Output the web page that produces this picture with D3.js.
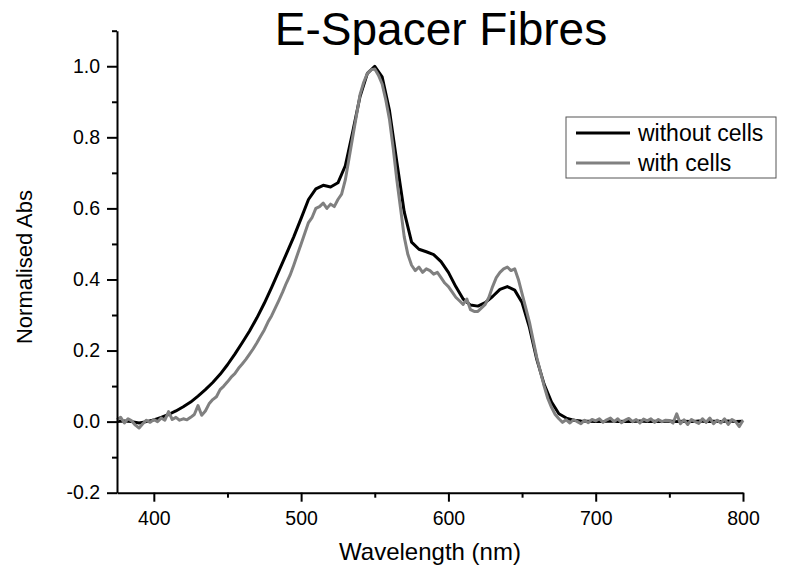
<!DOCTYPE html>
<html>
<head>
<meta charset="utf-8">
<script src="https://cdn.jsdelivr.net/npm/d3@7"></script>
<style>
  body { margin: 0; background: #fff; }
  svg { font-family: "Liberation Sans", Arial, sans-serif; }
</style>
</head>
<body>
<div id="chart"></div>
<script>
// absorbance spectra
var seriesNames = ["without cells", "with cells"];

// without cells, every 5 nm from 375 to 800
var withoutStep = 5;
var withoutCells = [
  0.0, 0.002, 0.0, -0.004, 0.0, 0.005, 0.012, 0.02, 0.03, 0.042,
  0.055, 0.072, 0.09, 0.11, 0.133, 0.16, 0.19, 0.222, 0.255, 0.292,
  0.333, 0.378, 0.425, 0.472, 0.52, 0.572, 0.625, 0.655, 0.665, 0.66,
  0.672, 0.72, 0.815, 0.915, 0.98, 1.0, 0.97, 0.875, 0.73, 0.59,
  0.505, 0.485, 0.478, 0.47, 0.45, 0.42, 0.38, 0.345, 0.328, 0.325,
  0.335, 0.352, 0.372, 0.38, 0.37, 0.335, 0.265, 0.175, 0.105, 0.055,
  0.022, 0.01, 0.004, 0.002, 0.001, 0.0, 0.0, 0.002, 0.0, 0.001,
  0.0, 0.002, 0.0, 0.001, 0.0, 0.002, 0.0, 0.001, 0.0, 0.002,
  0.0, 0.001, 0.0, 0.002, 0.0, 0.001
];

// with cells, every 2.5 nm from 375 to 800 (noisier trace)
var withStep = 2.5;
var withCells = [
  0.005, 0.012, -0.004, 0.008, 0.002, -0.01, -0.018, -0.006, 0.004, -0.002,
  0.006, 0.0, 0.01, 0.004, 0.028, 0.006, 0.012, 0.004, 0.008, 0.005,
  0.012, 0.02, 0.045, 0.018, 0.03, 0.05, 0.062, 0.07, 0.09, 0.1,
  0.112, 0.125, 0.135, 0.15, 0.162, 0.175, 0.19, 0.205, 0.222, 0.24,
  0.258, 0.28, 0.298, 0.32, 0.342, 0.365, 0.39, 0.412, 0.44, 0.47,
  0.5, 0.53, 0.56, 0.575, 0.6, 0.605, 0.615, 0.6, 0.612, 0.605,
  0.625, 0.64, 0.68, 0.74, 0.8, 0.86, 0.92, 0.955, 0.98, 0.99,
  0.992, 0.975, 0.95, 0.905, 0.85, 0.77, 0.68, 0.6, 0.52, 0.47,
  0.44, 0.425, 0.435, 0.42, 0.43, 0.425, 0.415, 0.42, 0.405, 0.39,
  0.38, 0.365, 0.35, 0.34, 0.33, 0.345, 0.315, 0.31, 0.31, 0.32,
  0.33, 0.35, 0.38, 0.405, 0.42, 0.43, 0.435, 0.425, 0.43, 0.4,
  0.36, 0.32, 0.28, 0.23, 0.18, 0.14, 0.1, 0.065, 0.04, 0.02,
  0.008, -0.002, 0.005, -0.004, 0.006, 0.0, -0.006, 0.004, -0.003, 0.006,
  0.002, 0.008, -0.002, 0.005, 0.01, 0.0, 0.008, -0.003, 0.004, 0.009,
  0.0, 0.006, -0.004, 0.007, 0.002, 0.008, -0.002, 0.006, 0.0, 0.004,
  0.003, -0.004, 0.022, -0.006, 0.005, -0.008, 0.006, 0.0, -0.005, 0.008,
  -0.002, 0.01, -0.006, 0.004, -0.004, 0.008, -0.008, 0.006, 0.0, -0.014,
  0.004
];

var xTicks = [400, 500, 600, 700, 800];
var xMinor = [450, 550, 650, 750];
var yTicks = [-0.2, 0.0, 0.2, 0.4, 0.6, 0.8, 1.0];
var yMinor = [-0.1, 0.1, 0.3, 0.5, 0.7, 0.9, 1.1];

var width = 809, height = 576;
var plotLeft = 117, plotRight = 743, plotTop = 30.7, plotBottom = 492.7;

var x = d3.scaleLinear().domain([375, 800]).range([plotLeft, plotRight]);
var y = d3.scaleLinear().domain([-0.2, 1.1]).range([plotBottom, plotTop]);

var svg = d3.select("#chart").append("svg")
    .attr("width", width)
    .attr("height", height);

function toPoints(vals, step) {
    return vals.map(function(v, i) { return { nm: 375 + i * step, v: v }; });
}

var line = d3.line()
    .x(function(d) { return x(d.nm); })
    .y(function(d) { return y(d.v); });

svg.append("path")
    .datum(toPoints(withoutCells, withoutStep))
    .attr("d", line)
    .attr("fill", "none")
    .attr("stroke", "#000")
    .attr("stroke-width", 3)
    .attr("stroke-linejoin", "round");

svg.append("path")
    .datum(toPoints(withCells, withStep))
    .attr("d", line)
    .attr("fill", "none")
    .attr("stroke", "#808080")
    .attr("stroke-width", 3)
    .attr("stroke-linejoin", "round");

// plain hyphen for negatives, like the original
var yFmt = function(d) { return d3.format(".1f")(d).replace("\u2212", "-"); };

// axes, major + minor ticks
svg.append("g")
    .attr("transform", "translate(0," + plotBottom + ")")
    .call(d3.axisBottom(x).tickValues(xTicks).tickSize(9).tickSizeOuter(0).tickPadding(9)
        .tickFormat(d3.format("d")));
svg.append("g")
    .attr("transform", "translate(0," + plotBottom + ")")
    .call(d3.axisBottom(x).tickValues(xMinor).tickSize(5).tickSizeOuter(0).tickFormat(""))
    .select(".domain").remove();

svg.append("g")
    .attr("transform", "translate(" + plotLeft + ",0)")
    .call(d3.axisLeft(y).tickValues(yTicks).tickSize(10).tickSizeOuter(0).tickPadding(7)
        .tickFormat(yFmt));
svg.append("g")
    .attr("transform", "translate(" + plotLeft + ",0)")
    .call(d3.axisLeft(y).tickValues(yMinor).tickSize(5).tickSizeOuter(0).tickFormat(""))
    .select(".domain").remove();

svg.selectAll(".domain, .tick line")
    .attr("stroke", "#000")
    .attr("stroke-width", 2);
svg.selectAll(".tick text")
    .attr("fill", "#000")
    .style("font-size", "19.5px")
    .style("font-family", "Liberation Sans, Arial, sans-serif");

// titles
svg.append("text")
    .attr("x", 441)
    .attr("y", 45)
    .attr("text-anchor", "middle")
    .style("font-size", "46px")
    .text("E-Spacer Fibres");

svg.append("text")
    .attr("x", 430)
    .attr("y", 560)
    .attr("text-anchor", "middle")
    .style("font-size", "24px")
    .text("Wavelength (nm)");

svg.append("text")
    .attr("transform", "translate(32,267) rotate(-90)")
    .attr("text-anchor", "middle")
    .style("font-size", "22px")
    .text("Normalised Abs");

// legend
var legend = svg.append("g").attr("transform", "translate(566,117)");
legend.append("rect")
    .attr("width", 210)
    .attr("height", 61)
    .attr("fill", "#fff")
    .attr("stroke", "#555")
    .attr("stroke-width", 1);

var legendColors = ["#000", "#808080"];
seriesNames.forEach(function(name, i) {
    var ly = 16 + i * 30;
    legend.append("line")
        .attr("x1", 10).attr("x2", 64)
        .attr("y1", ly).attr("y2", ly)
        .attr("stroke", legendColors[i])
        .attr("stroke-width", 3);
    legend.append("text")
        .attr("x", 72)
        .attr("y", ly + 8)
        .style("font-size", "23px")
        .text(name);
});
</script>
</body>
</html>
